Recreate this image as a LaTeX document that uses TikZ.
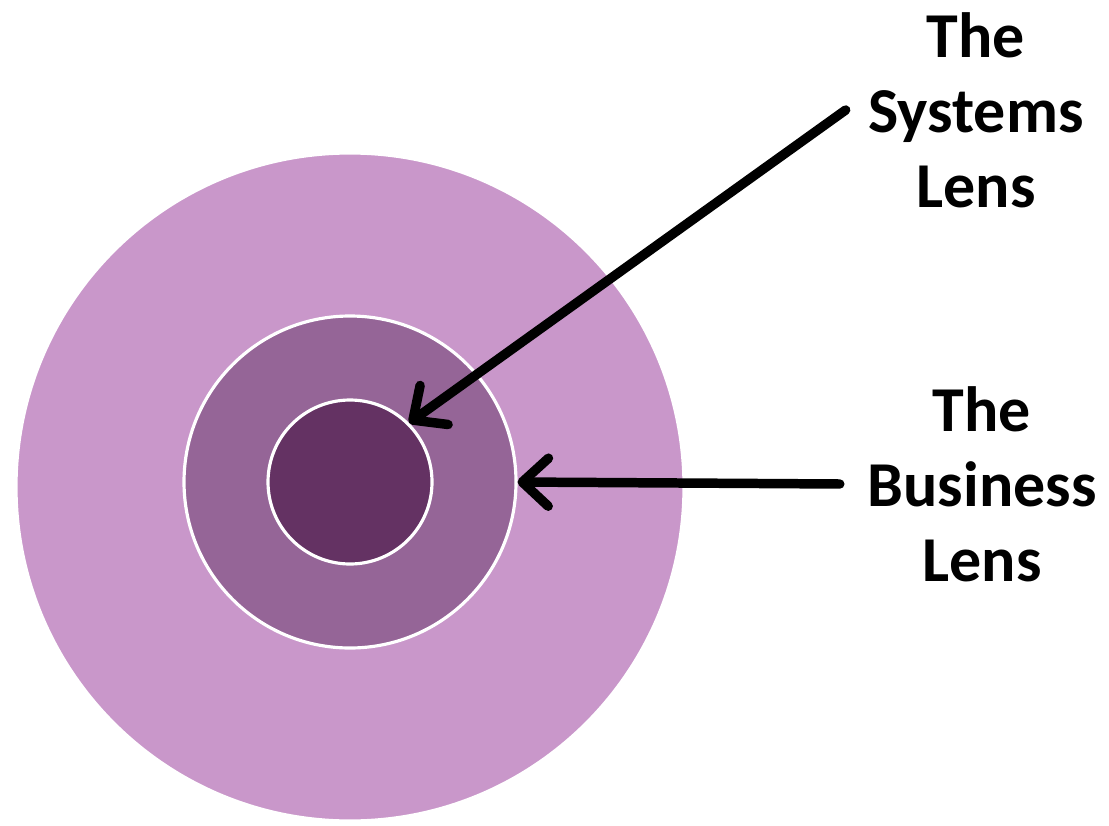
\documentclass[tikz,border=0pt]{standalone}
\usepackage{fontspec}
\setmainfont{Carlito}
\usepackage{xcolor}
\usetikzlibrary{arrows.meta}

\definecolor{lensouter}{HTML}{C997CA}
\definecolor{lensmid}{HTML}{956597}
\definecolor{lensinner}{HTML}{643263}

\begin{document}
\begin{tikzpicture}[
    ring/.style={circle, draw=white, line width=0.9pt, inner sep=0pt},
    lenslabel/.style={align=center, font=\bfseries\fontsize{18.2}{21.3}\selectfont, inner sep=4pt},
    pointer/.style={line width=2.7pt, line cap=round, -{Straight Barb[length=2.6mm,width=4.8mm,round]}}
  ]
  \useasboundingbox (0,0) rectangle (11.09,8.25);

  % the three rings
  \node[ring, fill=lensouter, minimum size=6.68cm] (outer) at (3.50,3.38) {};
  \node[ring, fill=lensmid, minimum size=3.32cm] (middle) at (3.50,3.43) {};
  \node[ring, fill=lensinner, minimum size=1.64cm] (inner) at (3.50,3.43) {};

  % labels
  \node[lenslabel] (syslbl) at (9.76,7.15) {The\\Systems\\Lens};
  \node[lenslabel] (buslbl) at (9.82,3.41) {The\\Business\\Lens};

  % pointers
  \draw[pointer] ([xshift=-0.08cm]syslbl.west) -- (inner.45);
  \draw[pointer] ([xshift=-0.13cm]buslbl.west) -- (middle.east);
\end{tikzpicture}
\end{document}
